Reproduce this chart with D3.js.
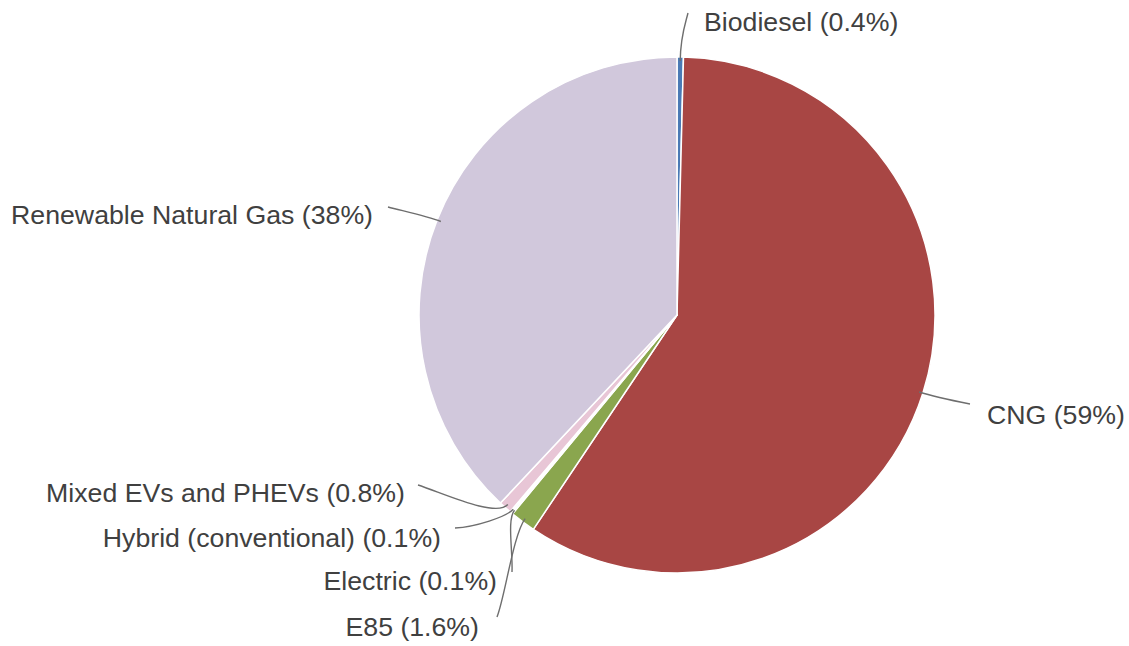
<!DOCTYPE html>
<html><head><meta charset="utf-8">
<script src="https://cdn.jsdelivr.net/npm/d3@7"></script>
<style>body{margin:0;background:#fff}svg{display:block}</style>
</head><body>
<svg id="c" width="1129" height="646"></svg>
<script>
const categories = ["Biodiesel","CNG","E85","Electric","Hybrid (conventional)","Mixed EVs and PHEVs","Renewable Natural Gas"];
const values = [0.4, 59, 1.6, 0.1, 0.1, 0.8, 38];
const labels = ["Biodiesel (0.4%)","CNG (59%)","E85 (1.6%)","Electric (0.1%)","Hybrid (conventional) (0.1%)","Mixed EVs and PHEVs (0.8%)","Renewable Natural Gas (38%)"];
const colors = ["#4a7ab5","#a84644","#8aa64e","#7db6d6","#b5dbe8","#e8c6d6","#d1c8dc"];

// layout: text anchor positions and leader-line end points
const layout = [
  {tx:704, ty:31, anchor:"start", ex:688, ey:13, dx:-3, dy:12, a:25},
  {tx:987, ty:424, anchor:"start", ex:970, ey:404, dx:-15, dy:-3, a:15},
  {tx:479, ty:636, anchor:"end", ex:497, ey:617, dx:8, dy:-20, a:20},
  {tx:497, ty:590, anchor:"end", ex:512, ey:572, dx:1, dy:-20, a:12},
  {tx:441, ty:547, anchor:"end", ex:455, ey:528, dx:20, dy:-1, a:10},
  {tx:405, ty:502, anchor:"end", ex:418, ey:485, dx:25, dy:8, a:18},
  {tx:373, ty:224, anchor:"end", ex:388, ey:207, dx:15, dy:4, a:15}
];

const cx = 677, cy = 315, R = 258;
const svg = d3.select("#c");
const g = svg.append("g").attr("transform", `translate(${cx},${cy})`);
const pie = d3.pie().sort(null).value(d => d)(values);
const arc = d3.arc().innerRadius(0).outerRadius(R);
g.selectAll("path.s").data(pie).enter().append("path")
  .attr("class","s")
  .attr("d", arc)
  .attr("fill", (d,i) => colors[i])
  .attr("stroke", "#fff").attr("stroke-width", 1.5).attr("stroke-linejoin","round");

// leader lines
pie.forEach((d,i) => {
  const L = layout[i];
  const m = (d.startAngle + d.endAngle) / 2;
  const ux = Math.sin(m), uy = -Math.cos(m);
  const r0 = R - 4;
  const sx = cx + ux * r0, sy = cy + uy * r0;
  const p = d3.path();
  p.moveTo(sx, sy);
  p.bezierCurveTo(sx + ux * L.a, sy + uy * L.a, L.ex + L.dx, L.ey + L.dy, L.ex, L.ey);
  svg.append("path").attr("d", p.toString())
    .attr("fill","none").attr("stroke","#6e6e6e").attr("stroke-width",1.4);
});

svg.selectAll("text.l").data(labels).enter().append("text")
  .attr("class","l")
  .attr("x", (d,i) => layout[i].tx)
  .attr("y", (d,i) => layout[i].ty)
  .attr("text-anchor", (d,i) => layout[i].anchor)
  .attr("font-family","'Liberation Sans', Arial, sans-serif")
  .attr("font-size", 26.7)
  .attr("fill","#404040")
  .text(d => d);
</script>
</body></html>
